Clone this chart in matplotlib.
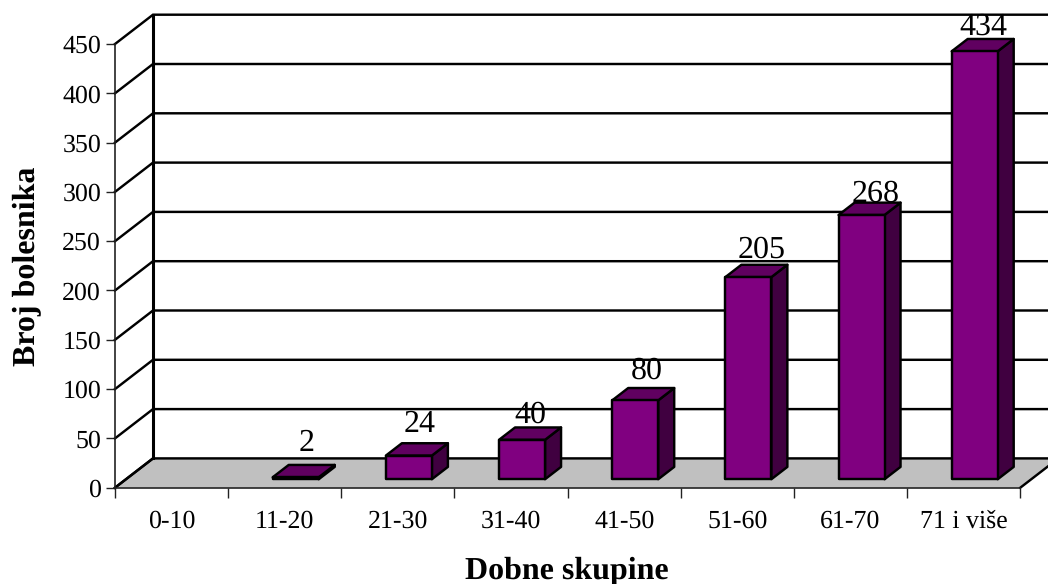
import matplotlib
matplotlib.use("Agg")
import matplotlib.pyplot as plt
from matplotlib.patches import Polygon

plt.rcParams['font.family'] = ['Liberation Serif', 'DejaVu Serif']
plt.rcParams['text.hinting'] = 'no_hinting'

categories = ['0-10', '11-20', '21-30', '31-40', '41-50', '51-60', '61-70', '71 i više']
values = [0, 2, 24, 40, 80, 205, 268, 434]
y_ticks = [0, 50, 100, 150, 200, 250, 300, 350, 400, 450]
x_title = 'Dobne skupine'
y_title = 'Broj bolesnika'
# value-label nudges in pixels, relative to the bar's top
label_lift = [0, 14.3, 11.6, 4.9, 9.4, 7.2, 1.0, 4.4]
label_shift = [0, 11.3, 11.1, 8.0, 11.8, 13.6, 14.5, 8.3]

W, H = 1048, 584
fig = plt.figure(figsize=(W / 100, H / 100), dpi=100, facecolor='white')
L, R, B, T = 115.0, 1020.3, 487.7, 44.0
ax = fig.add_axes([L / W, 1 - B / H, (R - L) / W, (B - T) / H])
ax.set_xlim(0, len(categories))
ax.set_ylim(0, 450)
px_x = (R - L) / len(categories)
px_y = (B - T) / 450
DX = 38.0 / px_x      # wall depth, category units
DY = 29.3 / px_y      # wall depth, value units


def p(cat, val, d=0.0):
    return (cat + d * DX, val + d * DY)


lw = 1.75
n = len(categories)
# floor
ax.add_patch(Polygon([p(0, 0), p(n, 0), p(n, 0, 1), p(0, 0, 1)], closed=True,
                     facecolor='#C0C0C0', edgecolor='none', clip_on=False, zorder=1))
# floor edges
for a, b in [(p(0, 0), p(0, 0, 1)), (p(n, 0), p(n, 0, 1))]:
    ax.plot([a[0], b[0]], [a[1], b[1]], color='black', lw=lw, clip_on=False, zorder=2)
# walls and grid
for v in y_ticks:
    a, b, c = p(0, v), p(0, v, 1), p(n, v, 1)
    ax.plot([a[0], b[0], c[0]], [a[1], b[1], c[1]], color='black', lw=lw,
            clip_on=False, zorder=2, solid_joinstyle='miter')
a, b = p(0, 0, 1), p(0, y_ticks[-1], 1)
ax.plot([a[0], b[0]], [a[1], b[1]], color='black', lw=2.2, clip_on=False, zorder=2)

# bars
bar_w = 46.0 / px_x
d0, d1 = 0.289, 0.71
for i, v in enumerate(values):
    if v <= 0:
        continue
    x0, x1 = i + 0.5 - bar_w / 2, i + 0.5 + bar_w / 2
    faces = [
        ([p(x1, 0, d0), p(x1, 0, d1), p(x1, v, d1), p(x1, v, d0)], '#400040'),
        ([p(x0, v, d0), p(x1, v, d0), p(x1, v, d1), p(x0, v, d1)], '#600060'),
        ([p(x0, 0, d0), p(x1, 0, d0), p(x1, v, d0), p(x0, v, d0)], '#800080'),
    ]
    for pts, col in faces:
        ax.add_patch(Polygon(pts, closed=True, facecolor=col, edgecolor='black',
                             lw=lw, joinstyle='round', clip_on=False, zorder=3))
    _, ly = p(i + 0.5, v, d1)
    ax.annotate(str(v), xy=(i + 0.5 + d0 * DX, ly),
                xytext=(label_shift[i], label_lift[i]),
                textcoords='offset pixels', ha='center', va='baseline',
                fontsize=23, color='black', zorder=4, annotation_clip=False)

# axes
for s in ['top', 'right']:
    ax.spines[s].set_visible(False)
for s in ['left', 'bottom']:
    ax.spines[s].set_linewidth(1.2)
    ax.spines[s].set_color('#222222')
    ax.spines[s].set_zorder(5)
ax.patch.set_visible(False)
ax.set_yticks(y_ticks)
ax.set_yticklabels([str(v) for v in y_ticks], fontsize=18.6)
ax.set_xticks(range(n + 1))
ax.set_xticklabels([])
ax.set_xticks([i + 0.5 for i in range(n)], minor=True)
ax.set_xticklabels(categories, minor=True, fontsize=18.6)
ax.tick_params(axis='y', length=6.5, width=1.0, pad=3.5, color='#222222')
ax.tick_params(axis='x', which='major', length=7, width=1.0, color='#222222')
ax.tick_params(axis='x', which='minor', length=0, pad=15.5)

fig.text(567 / W, 1 - 579 / H, x_title, ha='center', va='baseline', fontsize=23, fontweight='bold')
fig.text(27 / W, 1 - 266 / H, y_title, ha='center', va='center', rotation=90, fontsize=23, fontweight='bold')

fig.savefig('out.png', dpi=100, facecolor='white')
